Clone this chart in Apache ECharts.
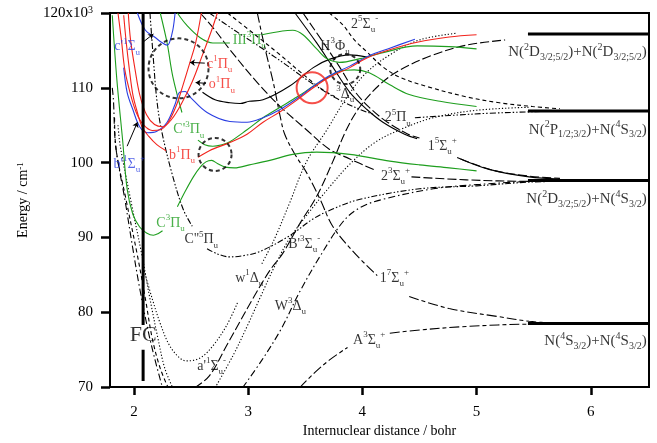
<!DOCTYPE html>
<html><head><meta charset="utf-8">
<script src="https://cdn.jsdelivr.net/npm/echarts@6/dist/echarts.min.js"></script>
<style>html,body{margin:0;padding:0;background:#fff}#c{width:657px;height:443px}</style>
</head><body><div id="c"></div>
<script>
// ---- data: x = internuclear distance (bohr), y = energy (10^3 cm^-1) ----
const xTicks = [2, 3, 4, 5, 6];
const yTicks = [70, 80, 90, 100, 110, 120];

// green states
const C3Pu_low = [[1.81,119.7],[1.85,111.1],[1.90,103.1],[1.94,96.5],[1.99,93.1],[2.05,91.4],[2.11,90.6],[2.17,90.3],[2.21,90.5],[2.25,90.9]];
const C3Pu_up = [[2.38,94.1],[2.45,96.2],[2.52,98.1],[2.58,99.4],[2.63,100.1],[2.68,100.3],[2.73,99.9],[2.80,99.4],[2.88,99.3],[3.01,99.7],[3.19,100.3],[3.39,101.1],[3.60,101.4],[3.89,101.1],[4.24,100.2],[4.50,99.7],[4.76,99.3],[5.00,98.9]];
const Cp3Pu_a = [[2.23,120],[2.29,116.0],[2.34,111.5],[2.42,106.7]];
const Cp3Pu_b = [[2.56,103.0],[2.62,102.4],[2.69,102.2],[2.77,102.4],[2.84,102.8],[2.99,104.4],[3.13,106.0],[3.28,107.4],[3.43,108.8],[3.57,110.2],[3.71,111.5],[3.80,112.2],[3.93,112.4],[4.06,112.0],[4.24,110.4],[4.41,109.1],[4.68,108.2],[5.00,107.5]];
const III3Pu_a = [[2.38,120],[2.46,118.4],[2.58,116.7],[2.69,116.0],[2.84,116.0]];
const III3Pu_b = [[3.12,117.1],[3.30,117.6],[3.39,117.7],[3.48,117.1],[3.60,115.2],[3.69,113.9],[3.80,113.4],[3.98,113.9],[4.18,114.7],[4.48,115.6],[4.76,115.5],[5.00,115.2]];
// red states
const b1Pu_a = [[1.91,119.7],[1.93,116.4],[1.96,112.4],[1.99,109.1],[2.03,106.7],[2.07,104.8],[2.13,103.5],[2.20,102.4],[2.28,101.6]];
const b1Pu_b = [[2.56,100.7],[2.66,101.6],[2.84,102.7],[2.99,103.8],[3.13,105.4],[3.28,106.8],[3.43,108.4],[3.57,110.0],[3.71,111.4],[3.89,112.7],[4.04,114.0],[4.24,115.1],[4.48,116.1],[4.76,116.8],[5.00,117.1]];
const c1Pu = [[1.86,120],[1.89,116.4],[1.92,112.4],[1.97,109.1],[2.02,106.7],[2.08,105.1],[2.16,104.3],[2.23,104.4],[2.30,105.4],[2.37,107.6],[2.43,110.4],[2.49,113.4],[2.54,116.0],[2.59,120]];
const o1Pu = [[1.95,120],[1.97,116.4],[2.01,112.4],[2.05,109.1],[2.11,106.4],[2.18,105.1],[2.25,104.8],[2.33,105.8],[2.42,108.0],[2.51,110.8],[2.60,114.4],[2.68,117.7],[2.73,120]];
// blue states
const bp1Su = [[1.91,112.7],[1.94,109.4],[1.99,107.1],[2.05,104.8],[2.12,104.0],[2.20,104.2],[2.29,105.4],[2.36,107.8],[2.40,109.4],[2.45,109.5],[2.49,108.8],[2.64,106.7],[2.84,105.5],[2.99,105.4],[3.13,106.0],[3.28,107.1],[3.45,108.8],[3.57,110.2],[3.71,111.6],[3.89,112.9],[4.06,114.3],[4.24,115.3],[4.46,116.5]];
const cp1Su = [[2.03,120],[2.10,117.7],[2.18,116.8],[2.24,116.1],[2.29,115.7],[2.31,116.0],[2.34,117.7],[2.36,120]];
// black states
const H3Fu = [[2.60,109.4],[2.71,108.4],[2.84,108.0],[2.93,107.9],[3.01,108.2],[3.13,108.4],[3.36,110.2],[3.57,112.7],[3.71,113.8],[3.89,114.4],[4.04,114.1]];
const S5m2 = [[3.71,120],[3.83,118.4],[3.93,116.4],[4.04,114.8],[4.18,112.8],[4.33,111.4],[4.56,110.2],[4.91,108.8],[5.20,108.0],[5.49,107.5],[5.73,107.2]];
const S5p1_a = [[3.41,120],[3.60,116.0],[3.74,112.8],[3.89,109.4],[4.04,107.1],[4.18,105.4],[4.37,103.8],[4.48,103.2]];
const S5p1_b = [[4.83,100.7],[5.11,99.1],[5.46,98.1],[5.73,97.8]];
const S5p1x_a = [[3.48,120],[3.66,116.0],[3.80,112.8],[3.94,109.4],[4.08,107.1],[4.22,105.4],[4.40,103.8],[4.50,103.3]];
const S5p1x_b = [[4.86,100.5],[5.14,99.0],[5.46,98.2],[5.73,97.9]];
const S3p2_a = [[2.58,120],[2.71,117.7],[2.84,115.1],[3.08,110.7],[3.28,107.5],[3.51,104.4],[3.71,101.8],[3.89,100.5],[4.11,99.0]];
const S3p2_b = [[4.43,98.1],[4.91,97.7],[5.46,97.5],[5.73,97.5]];
const P5u2_a = [[2.66,120],[2.88,117.7],[3.10,115.5],[3.32,113.2],[3.54,110.8],[3.76,108.7],[3.98,107.1],[4.11,106.4]];
const P5u2_b = [[4.46,106.0],[4.76,106.3],[5.11,106.6],[5.49,106.8],[5.73,106.9]];
const D3u = [[2.82,120],[3.06,117.1],[3.28,114.4],[3.45,112.2],[3.63,110.0],[3.76,108.8]];
const S7p1_a = [[3.08,120],[3.15,115.1],[3.22,110.7],[3.28,106.2],[3.32,103.8],[3.41,101.1],[3.51,98.7],[3.63,95.1],[3.74,91.5],[3.92,88.1],[4.13,84.9]];
const S7p1_b = [[4.41,82.1],[4.76,80.5],[5.20,79.4],[5.46,78.8],[5.73,78.5]];
const A3Sp_a = [[3.45,69.9],[3.58,71.9],[3.71,73.6],[3.87,75.3]];
const A3Sp_b = [[4.24,77.2],[4.48,77.6],[4.91,78.1],[5.46,78.4],[5.73,78.4]];
const wallA = [[1.81,110.0],[1.82,108.4],[1.84,102.2],[1.92,95.1],[1.99,88.5],[2.05,83.2],[2.12,77.8],[2.18,73.9],[2.25,69.9]];
const wallB = [[1.83,106.0],[1.84,102.2],[1.93,95.1],[2.03,87.6],[2.10,81.8],[2.16,76.5],[2.23,72.5],[2.30,69.9]];
const wallC = [[1.86,105.0],[1.88,102.2],[1.97,95.1],[2.07,87.6],[2.14,81.8],[2.21,76.5],[2.27,72.5],[2.34,69.9]];
const ap1Sm = [[2.53,69.9],[2.66,71.5],[2.82,75.8],[2.93,78.8],[3.04,81.8],[3.19,85.6],[3.30,87.8],[3.45,91.8],[3.60,95.5],[3.74,100.1],[3.86,104.4],[3.98,107.5],[4.15,110.4],[4.33,112.4],[4.62,114.4],[4.91,115.7],[5.25,116.4]];
const w1Du_a = [[2.09,85.5],[2.16,81.8],[2.23,78.5],[2.31,75.6],[2.40,73.9],[2.46,73.5],[2.58,73.9],[2.69,75.5],[2.81,78.2],[2.91,81.4]];
const w1Du_b = [[3.12,86.5],[3.23,89.8],[3.36,94.5],[3.51,100.1],[3.69,104.4],[3.85,108.4],[4.02,111.8],[4.24,114.4],[4.50,116.4],[4.83,117.3]];
const Bp3Sm = [[2.71,69.9],[2.87,74.3],[2.99,78.1],[3.10,81.8],[3.23,86.1],[3.36,89.8],[3.54,93.5],[3.71,96.7],[3.89,99.8],[4.11,102.7],[4.33,104.4],[4.62,106.0],[5.00,107.0],[5.46,107.4]];
const W3Du = [[2.95,69.9],[3.12,73.6],[3.29,77.8],[3.45,82.7],[3.63,87.5],[3.83,92.1],[3.98,94.0],[4.18,95.1],[4.62,96.5],[5.03,97.1],[5.46,97.5]];
const C5Pu_a = [[2.14,120],[2.17,113.8],[2.20,108.4],[2.24,104.4],[2.33,98.7],[2.43,93.8],[2.51,91.5]];
const C5Pu_b = [[2.64,88.5],[2.73,87.8],[2.84,87.4],[2.97,87.6],[3.10,88.1],[3.36,90.2],[3.57,92.5],[3.74,93.8],[3.98,95.1],[4.50,96.5],[5.00,96.9],[5.46,97.4],[5.73,97.5]];
// dissociation limits
const limitY = [117.2, 106.9, 97.6, 78.5];
const limitX = [5.45, 6.51];
// Franck-Condon region
const fcX = 2.08;
const fcRanges = [[120, 78.3], [75.0, 70.8]];

// ---- styles ----
const SERIF = '"Liberation Serif","Times New Roman",serif';
const GREEN = '#1e9e1e', RED = '#f2231c', BLUE = '#2b3fe2', BLACK = '#000';
const DOT = [1.2, 2], DASH = [4, 3], LDASH = [9, 3], DASHDOT = [7, 3, 1.5, 3],
      DASHDOTDOT = [6, 2, 1.5, 2, 1.5, 2], LDSD = [10, 3, 4, 3];

function curve(data, color, type, width) {
  return { type: 'line', data, showSymbol: false, smooth: 0.35, silent: true, z: 2,
    lineStyle: { color, width: width || 1.1, type: type || 'solid' } };
}
function straight(data, width) {
  return { type: 'line', data, showSymbol: false, smooth: false, silent: true, z: 3,
    lineStyle: { color: BLACK, width, type: 'solid' } };
}
function rich(size, small) {
  return {
    sp: { fontSize: small, fontFamily: SERIF, verticalAlign: 'top', lineHeight: small + 2 },
    sb: { fontSize: small, fontFamily: SERIF, verticalAlign: 'bottom', lineHeight: small + 2 }
  };
}

const series = [];
// black curves
series.push(curve(wallA, BLACK, DASHDOT));
series.push(curve(wallB, BLACK, DASH));
series.push(curve(wallC, BLACK, DOT));
series.push(curve(ap1Sm, BLACK, LDASH));
series.push(curve(w1Du_a, BLACK, DOT));
series.push(curve(w1Du_b, BLACK, DOT));
series.push(curve(Bp3Sm, BLACK, DOT));
series.push(curve(W3Du, BLACK, DASHDOT));
series.push(curve(C5Pu_a, BLACK, DASHDOTDOT));
series.push(curve(C5Pu_b, BLACK, DASHDOTDOT));
series.push(curve(A3Sp_a, BLACK, LDSD));
series.push(curve(A3Sp_b, BLACK, LDSD));
series.push(curve(S7p1_a, BLACK, LDSD));
series.push(curve(S7p1_b, BLACK, LDSD));
series.push(curve(S3p2_a, BLACK, LDASH));
series.push(curve(S3p2_b, BLACK, LDASH));
series.push(curve(P5u2_a, BLACK, DASHDOTDOT));
series.push(curve(P5u2_b, BLACK, DASHDOTDOT));
series.push(curve(D3u, BLACK, DASH));
series.push(curve(S5p1_a, BLACK, 'solid'));
series.push(curve(S5p1_b, BLACK, 'solid'));
series.push(curve(S5p1x_a, BLACK, LDASH));
series.push(curve(S5p1x_b, BLACK, LDASH));
series.push(curve(S5m2, BLACK, DASH));
series.push(curve(H3Fu, BLACK, 'solid'));
// coloured curves
series.push(curve(C3Pu_low, GREEN));
series.push(curve(C3Pu_up, GREEN));
series.push(curve(Cp3Pu_a, GREEN));
series.push(curve(Cp3Pu_b, GREEN));
series.push(curve(III3Pu_a, GREEN));
series.push(curve(III3Pu_b, GREEN));
series.push(curve(bp1Su, BLUE));
series.push(curve(cp1Su, BLUE));
series.push(curve(b1Pu_a, RED));
series.push(curve(b1Pu_b, RED));
series.push(curve(c1Pu, RED));
series.push(curve(o1Pu, RED));
// limits and FC line
limitY.forEach(y => series.push(straight(limitX.map(x => [x, y]), 3)));
fcRanges.forEach(r => series.push(straight(r.map(y => [fcX, y]), 3)));

// avoided-crossing circles
const circleItems = [
  { value: [2.39, 112.6], symbolSize: 60, itemStyle: { borderColor: BLACK, borderType: [4, 3] } },
  { value: [2.71, 101.1], symbolSize: 33, itemStyle: { borderColor: BLACK, borderType: [4, 3] } },
  { value: [3.85, 112.5], symbolSize: 30, itemStyle: { borderColor: BLACK, borderType: [4, 3] } },
  { value: [3.56, 110.0], symbolSize: 31, itemStyle: { borderColor: RED, borderType: 'solid' } }
];
series.push({ type: 'scatter', silent: true, z: 4, symbol: 'circle', data: circleItems,
  itemStyle: { color: 'rgba(0,0,0,0)', borderWidth: 2 } });

// arrows from labels
series.push({ type: 'lines', coordinateSystem: 'cartesian2d', silent: true, z: 4,
  symbol: ['none', 'arrow'], symbolSize: 5, lineStyle: { color: BLACK, width: 1, opacity: 1 },
  data: [
    { coords: [[2.62, 113.3], [2.49, 113.4]] },
    { coords: [[2.63, 110.6], [2.54, 110.7]] },
    { coords: [[2.07, 116.0], [2.17, 117.2]] },
    { coords: [[1.94, 102.2], [2.03, 105.4]] }
  ] });

// state labels
const R14 = rich(14, 9);
function lab(x, y, text, color, size, align) {
  return { value: [x, y], label: { formatter: text, color: color, fontSize: size || 14,
    align: align || 'center', rich: size && size > 14 ? rich(size, 10) : R14 } };
}
const labels = [
  lab(1.94, 115.5, "c'{sp|1}Σ{sb|u}", BLUE),
  lab(1.96, 99.8, "b'{sp|1}Σ{sb|u}{sp|+}", BLUE),
  lab(2.75, 113.2, "c{sp|1}Π{sb|u}", RED),
  lab(2.77, 110.4, "o{sp|1}Π{sb|u}", RED),
  lab(2.48, 104.4, "C'{sp|3}Π{sb|u}", GREEN),
  lab(2.42, 101.0, "b{sp|1}Π{sb|u}", RED),
  lab(3.01, 116.4, "III{sp|3}Π{sb|u}", GREEN),
  lab(2.32, 91.9, "C{sp|3}Π{sb|u}", GREEN),
  lab(2.59, 89.7, "C''{sp|5}Π{sb|u}", BLACK),
  lab(3.01, 84.5, "w{sp|1}Δ{sb|u}", BLACK),
  lab(2.68, 72.8, "a'{sp|1}Σ{sb|u}{sp|-}", BLACK),
  lab(3.37, 80.8, "W{sp|3}Δ{sb|u}", BLACK),
  lab(3.49, 89.1, "B'{sp|3}Σ{sb|u}{sp|-}", BLACK),
  lab(4.28, 84.5, "1{sp|7}Σ{sb|u}{sp|+}", BLACK),
  lab(4.06, 76.3, "A{sp|3}Σ{sb|u}{sp|+}", BLACK),
  lab(4.29, 98.2, "2{sp|3}Σ{sb|u}{sp|+}", BLACK),
  lab(4.70, 102.2, "1{sp|5}Σ{sb|u}{sp|+}", BLACK),
  lab(4.31, 106.0, "2{sp|5}Π{sb|u}", BLACK),
  lab(3.76, 115.6, "H{sp|3}Φ{sb|u}", BLACK),
  lab(4.02, 118.5, "2{sp|5}Σ{sb|u}{sp|-}", BLACK),
  lab(3.85, 109.1, "{sp|3}Δ{sb|u}", BLACK),
  lab(2.08, 76.9, "FC", BLACK, 22),
  lab(6.49, 114.8, "N({sp|2}D{sb|3/2;5/2})+N({sp|2}D{sb|3/2;5/2})", BLACK, 15, 'right'),
  lab(6.49, 104.4, "N({sp|2}P{sb|1/2;3/2})+N({sp|4}S{sb|3/2})", BLACK, 15, 'right'),
  lab(6.49, 95.1, "N({sp|2}D{sb|3/2;5/2})+N({sp|4}S{sb|3/2})", BLACK, 15, 'right'),
  lab(6.49, 76.1, "N({sp|4}S{sb|3/2})+N({sp|4}S{sb|3/2})", BLACK, 15, 'right')
];
series.push({ type: 'scatter', silent: true, z: 6, symbolSize: 0, data: labels,
  label: { show: true, position: [0, 0], verticalAlign: 'middle', fontFamily: SERIF, lineHeight: 20 } });

const chart = echarts.init(document.getElementById('c'), null, { renderer: 'canvas' });
chart.setOption({
  animation: false,
  backgroundColor: '#fff',
  grid: { left: 110, right: 8, top: 13, bottom: 54, show: true, borderColor: BLACK, borderWidth: 2 },
  xAxis: {
    type: 'value', min: 1.79, max: 6.51,
    name: 'Internuclear distance / bohr', nameLocation: 'middle', nameGap: 36,
    nameTextStyle: { fontFamily: SERIF, fontSize: 14, color: BLACK },
    axisLine: { lineStyle: { color: BLACK, width: 2 } },
    axisTick: { customValues: xTicks, length: 8, lineStyle: { color: BLACK, width: 2.5 } },
    axisLabel: { customValues: xTicks, margin: 17, fontFamily: SERIF, fontSize: 15, color: BLACK },
    splitLine: { show: false }
  },
  yAxis: {
    type: 'value', min: 70, max: 120, interval: 10,
    name: 'Energy / cm{sp|-1}', nameLocation: 'middle', nameGap: 80, nameRotate: 90,
    nameTextStyle: { fontFamily: SERIF, fontSize: 14, color: BLACK, rich: rich(14, 9) },
    axisLine: { lineStyle: { color: BLACK, width: 2 } },
    axisTick: { length: 9, lineStyle: { color: BLACK, width: 2.5 } },
    axisLabel: { margin: 17, fontFamily: SERIF, fontSize: 15, color: BLACK,
      formatter: v => (v === 120 ? '120x10{sp|3}' : String(v)), rich: rich(15, 10) },
    splitLine: { show: false }
  },
  series
});
</script>
</body></html>
